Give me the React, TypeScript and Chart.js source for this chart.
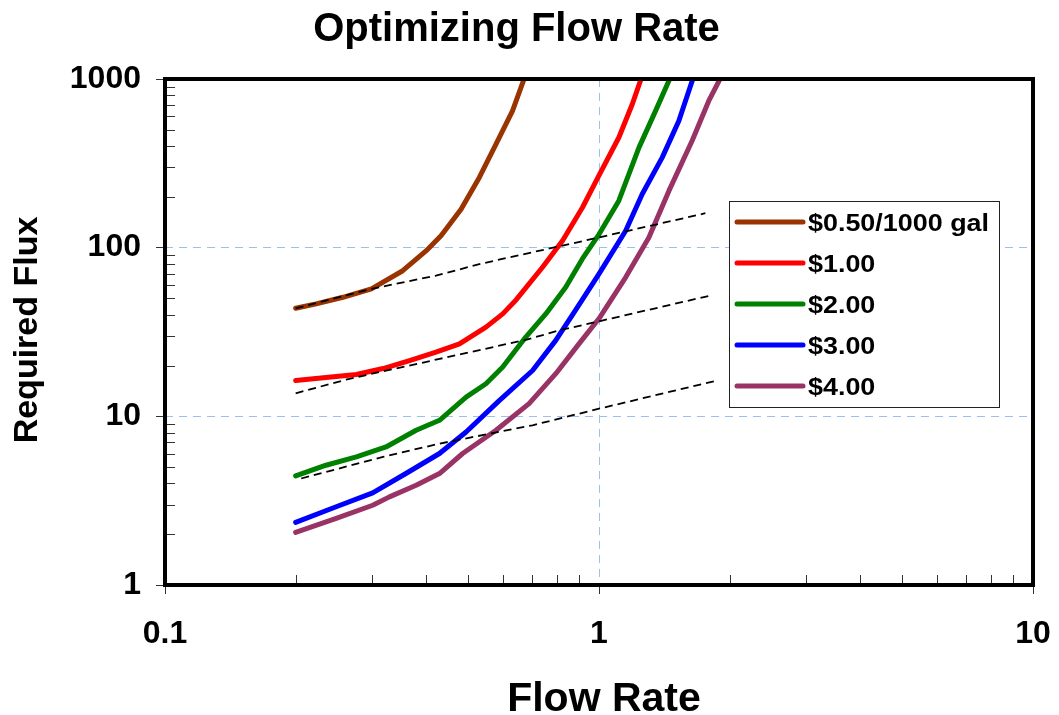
import { useEffect, useRef } from "react";
import { Chart, registerables } from "chart.js";

Chart.register(...registerables);

const FONT = "'Liberation Sans', Arial, Helvetica, sans-serif";

// Text
const chartTitle = "Optimizing Flow Rate";
const xAxisTitle = "Flow Rate";
const yAxisTitle = "Required Flux";

// Axis ticks (log decades) and the minor multipliers between them
const xTickValues = [0.1, 1, 10];
const yTickValues = [1, 10, 100, 1000];
const minorSteps = [2, 3, 4, 5, 6, 7, 8, 9];

// Series names and colours
const seriesLabels = ["$0.50/1000 gal", "$1.00", "$2.00", "$3.00", "$4.00"];
const seriesColors = ["#993300", "#FF0000", "#008000", "#0000FF", "#993366"];

// $0.50/1000 gal
const flow050 = [0.2, 0.223, 0.257, 0.299, 0.353, 0.4, 0.433, 0.481, 0.53, 0.579, 0.632, 0.672];
const flux050 = [43.7, 46.4, 50.8, 57, 73, 96, 118, 169, 261, 411, 647, 1000];

// $1.00
const flow100 = [0.2, 0.276, 0.318, 0.366, 0.421, 0.477, 0.549, 0.6, 0.644, 0.741, 0.824, 0.916, 1.0, 1.111, 1.193, 1.25];
const flux100 = [16.3, 17.7, 19.2, 21.4, 24, 26.9, 33.8, 40.5, 49, 76.5, 110, 173, 268, 450, 708, 1000];

// $2.00
const flow200 = [0.2, 0.235, 0.276, 0.323, 0.379, 0.429, 0.494, 0.549, 0.6, 0.678, 0.754, 0.838, 0.916, 1.0, 1.111, 1.236, 1.35, 1.455];
const flux200 = [4.43, 5.13, 5.75, 6.58, 8.27, 9.47, 13, 15.6, 19.6, 29.5, 40.5, 58.2, 86, 120, 190, 392, 647, 1000];

// $3.00
const flow300 = [0.2, 0.248, 0.301, 0.359, 0.429, 0.494, 0.589, 0.703, 0.795, 0.9, 1.0, 1.152, 1.258, 1.398, 1.527, 1.645];
const flux300 = [2.35, 2.91, 3.52, 4.58, 6.02, 8.08, 12.4, 18.7, 28.2, 46, 70, 126, 208, 342, 564, 1000];

// $4.00
const flow400 = [0.2, 0.248, 0.301, 0.329, 0.379, 0.429, 0.485, 0.579, 0.69, 0.795, 0.899, 1.0, 1.152, 1.303, 1.449, 1.639, 1.79, 1.9];
const flux400 = [2.05, 2.48, 2.97, 3.33, 3.9, 4.58, 6.02, 8.27, 11.9, 17.9, 26.9, 38, 66.7, 115, 217, 430, 741, 1000];

// Dashed trend lines
const trendHighFlow = [0.2, 0.299, 0.421, 0.539, 0.809, 1.0, 1.758];
const trendHighFlux = [43.7, 57, 68.3, 80.7, 101.8, 115, 160];
const trendMidFlow = [0.2, 0.266, 0.429, 0.678, 0.809, 1.0, 1.806];
const trendMidFlux = [13.7, 16.7, 21.9, 28.4, 32.3, 36.6, 52];
const trendLowFlow = [0.206, 0.318, 0.429, 0.703, 1.0, 1.87];
const trendLowFlux = [4.28, 5.75, 6.89, 8.85, 11.1, 16.3];

const seriesFlow = [flow050, flow100, flow200, flow300, flow400];
const seriesFlux = [flux050, flux100, flux200, flux300, flux400];
const trendFlow = [trendHighFlow, trendMidFlow, trendLowFlow];
const trendFlux = [trendHighFlux, trendMidFlux, trendLowFlux];

const GRID_BLUE = "#99C2F2";

const toPoints = (xs: number[], ys: number[]) => xs.map((x, i) => ({ x, y: ys[i] }));

// Bold text with an optional horizontal stretch and rotation
function drawLabel(
  ctx: CanvasRenderingContext2D,
  text: string,
  x: number,
  y: number,
  size: number,
  stretch: number,
  align: CanvasTextAlign,
  rotate = 0
) {
  ctx.save();
  ctx.translate(x, y);
  if (rotate) ctx.rotate(rotate);
  ctx.scale(stretch, 1);
  ctx.font = `bold ${size}px ${FONT}`;
  ctx.fillStyle = "#000";
  ctx.textAlign = align;
  ctx.textBaseline = "alphabetic";
  ctx.fillText(text, 0, 0);
  ctx.restore();
}

// Titles around the plot
const titlesPlugin = {
  id: "titles",
  afterDraw(chart: any) {
    const { ctx, chartArea: a } = chart;
    drawLabel(ctx, chartTitle, a.right / 2, a.top - 38, 40, 1, "center");
    drawLabel(ctx, xAxisTitle, (a.left + a.right) / 2 + 5, a.bottom + 126, 41, 1, "center");
    drawLabel(ctx, yAxisTitle, a.left - 128, (a.top + a.bottom) / 2 - 2, 34, 1, "center", -Math.PI / 2);
  },
};

// Minor tick marks inside the plot and the heavy frame
const framePlugin = {
  id: "frame",
  afterDatasetsDraw(chart: any) {
    const { ctx, chartArea: a, scales } = chart;
    const xs = scales.x;
    const ys = scales.y;
    ctx.save();
    ctx.strokeStyle = "#333";
    ctx.lineWidth = 1;
    ctx.beginPath();
    for (const d of xTickValues.slice(0, -1)) {
      for (const m of minorSteps) {
        const px = Math.round(xs.getPixelForValue(d * m)) + 0.5;
        ctx.moveTo(px, a.bottom);
        ctx.lineTo(px, a.bottom - 10);
      }
    }
    for (const d of yTickValues.slice(0, -1)) {
      for (const m of minorSteps) {
        const py = Math.round(ys.getPixelForValue(d * m)) + 0.5;
        ctx.moveTo(a.left, py);
        ctx.lineTo(a.left + 10, py);
      }
    }
    ctx.stroke();
    ctx.strokeStyle = "#000";
    ctx.lineWidth = 4;
    ctx.strokeRect(a.left, a.top, a.right - a.left, a.bottom - a.top);
    ctx.restore();
  },
};

// Boxed legend for the five cost curves
const legendPlugin = {
  id: "boxLegend",
  afterDraw(chart: any) {
    const { ctx, chartArea: a } = chart;
    const left = a.right - 304;
    const top = a.top + 122;
    const w = 270;
    const h = 206;
    ctx.save();
    ctx.fillStyle = "#fff";
    ctx.fillRect(left, top, w, h);
    ctx.strokeStyle = "#222";
    ctx.lineWidth = 1;
    ctx.strokeRect(left + 0.5, top + 0.5, w, h);
    seriesLabels.forEach((label, i) => {
      const cy = top + 21 + i * 41;
      ctx.strokeStyle = seriesColors[i];
      ctx.lineWidth = 5;
      ctx.lineCap = "round";
      ctx.beginPath();
      ctx.moveTo(left + 8, cy);
      ctx.lineTo(left + 74, cy);
      ctx.stroke();
      drawLabel(ctx, label, left + 79, cy + 8.5, 23, 1.17, "left");
    });
    ctx.restore();
  },
};

export default function App() {
  const canvasRef = useRef<HTMLCanvasElement | null>(null);

  useEffect(() => {
    const canvas = canvasRef.current;
    if (!canvas) return;

    const curves = seriesLabels.map((label, i) => ({
      label,
      data: toPoints(seriesFlow[i], seriesFlux[i]),
      borderColor: seriesColors[i],
      backgroundColor: seriesColors[i],
      borderWidth: 5,
      pointRadius: 0,
      tension: 0,
      fill: false,
      borderCapStyle: "round",
      borderJoinStyle: "round",
      order: i + 1,
    }));

    const trends = trendFlow.map((xs, i) => ({
      label: `trend ${i + 1}`,
      data: toPoints(xs, trendFlux[i]),
      borderColor: "#000",
      backgroundColor: "#000",
      borderWidth: 1.8,
      borderDash: [8, 5],
      pointRadius: 0,
      tension: 0,
      fill: false,
      order: 0,
    }));

    const tickFont = { family: FONT, size: 32, weight: "bold" as const };

    const chart = new Chart(canvas, {
      type: "line",
      data: { datasets: [...trends, ...curves] as any },
      options: {
        animation: false,
        responsive: false,
        devicePixelRatio: 1,
        layout: { padding: { top: 79, right: 26, left: 0, bottom: 0 } },
        plugins: {
          legend: { display: false },
          title: { display: false },
          tooltip: { enabled: false },
        },
        scales: {
          x: {
            type: "logarithmic",
            min: 0.1,
            max: 10,
            afterBuildTicks: (s: any) => {
              s.ticks = xTickValues.map((value) => ({ value }));
            },
            afterFit: (s: any) => {
              s.height = 130;
              s.paddingLeft = 0;
              s.paddingRight = 0;
            },
            ticks: {
              callback: (v: any) => String(v),
              font: tickFont,
              color: "#000",
              padding: 21,
              maxRotation: 0,
              autoSkip: false,
            },
            grid: {
              color: (c: any) => (c.tick && c.tick.value === 1 ? GRID_BLUE : "rgba(0,0,0,0)"),
              tickColor: "#333",
              tickLength: 9,
              lineWidth: 1,
            },
            border: { display: false, dash: [8, 6] },
          },
          y: {
            type: "logarithmic",
            min: 1,
            max: 1000,
            afterBuildTicks: (s: any) => {
              s.ticks = yTickValues.map((value) => ({ value }));
            },
            afterFit: (s: any) => {
              s.width = 165;
              s.paddingTop = 0;
              s.paddingBottom = 0;
            },
            ticks: {
              callback: (v: any) => String(v),
              font: tickFont,
              color: "#000",
              padding: 15,
              autoSkip: false,
            },
            grid: {
              color: (c: any) =>
                c.tick && (c.tick.value === 10 || c.tick.value === 100) ? GRID_BLUE : "rgba(0,0,0,0)",
              tickColor: "#333",
              tickLength: 9,
              lineWidth: 1,
            },
            border: { display: false, dash: [8, 6] },
          },
        },
      } as any,
      plugins: [framePlugin, legendPlugin, titlesPlugin],
    });

    return () => chart.destroy();
  }, []);

  return (
    <div style={{ position: "fixed", left: 0, top: 0, width: 1059, height: 715, background: "#fff" }}>
      <canvas ref={canvasRef} width={1059} height={715} style={{ display: "block" }} />
    </div>
  );
}
